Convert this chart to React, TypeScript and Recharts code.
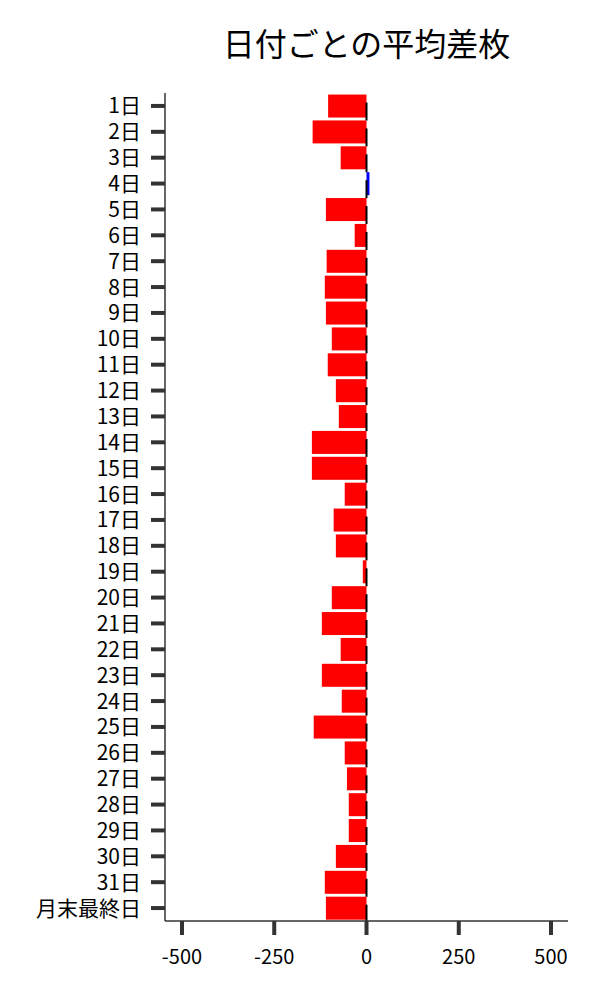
import React from 'react';
import { BarChart, Bar, XAxis, YAxis, Cell } from 'recharts';

const days: string[] = [
  '1日', '2日', '3日', '4日', '5日', '6日', '7日', '8日', '9日', '10日',
  '11日', '12日', '13日', '14日', '15日', '16日', '17日', '18日', '19日', '20日',
  '21日', '22日', '23日', '24日', '25日', '26日', '27日', '28日', '29日', '30日',
  '31日', '月末最終日',
];

const avgDiff: number[] = [
  -104, -146, -70, 8, -110, -32, -108, -113, -110, -94,
  -105, -83, -75, -148, -148, -59, -89, -83, -10, -94,
  -121, -70, -121, -67, -143, -59, -53, -48, -48, -83,
  -113, -110,
];

const xTicks: number[] = [-500, -250, 0, 250, 500];

const data = days.map((d, i) => ({ day: d, value: avgDiff[i] }));

const FONT = '"Noto Sans CJK JP", "Noto Sans", sans-serif';

const BarShape = (props: any) => {
  const { x, y, width, height, fill, value } = props;
  const left = Math.min(x, x + width);
  const w = Math.abs(width);
  const v = Array.isArray(value) ? value[1] : value;
  const zero = v < 0 ? Math.max(x, x + width) : Math.min(x, x + width);
  return (
    <g>
      <rect x={left} y={y} width={w} height={height} fill={fill} />
      <line x1={zero} x2={zero} y1={y + 8} y2={y + height + 3} stroke="#000" strokeWidth={2} />
    </g>
  );
};

export default function App() {
  return (
    <div style={{ position: 'absolute', left: 0, top: 0, width: 600, height: 1000, background: '#fff' }}>
      <div
        style={{
          position: 'absolute',
          left: 165,
          width: 403,
          top: 22,
          lineHeight: '40px',
          fontSize: 32,
          textAlign: 'center',
          fontFamily: FONT,
          color: '#000',
        }}
      >
        日付ごとの平均差枚
      </div>
      <BarChart
        width={600}
        height={1000}
        data={data}
        layout="vertical"
        margin={{ top: 93, right: 32, bottom: 0, left: 0 }}
        barCategoryGap="6%"
      >
        <XAxis
          type="number"
          domain={[-546, 546]}
          ticks={xTicks}
          allowDataOverflow
          tickSize={14}
          tickMargin={15}
          height={79}
          axisLine={{ stroke: '#333', strokeWidth: 1.5 }}
          tickLine={{ stroke: '#333', strokeWidth: 4 }}
          tick={{ fill: '#000', fontSize: 20, fontFamily: FONT }}
        />
        <YAxis
          type="category"
          dataKey="day"
          width={165}
          interval={0}
          tickSize={14}
          tickMargin={10}
          axisLine={{ stroke: '#333', strokeWidth: 1.5 }}
          tickLine={{ stroke: '#333', strokeWidth: 4 }}
          tick={{ fill: '#000', fontSize: 21, fontFamily: FONT }}
        />
        <Bar dataKey="value" isAnimationActive={false} shape={<BarShape />}>
          {data.map((d, i) => (
            <Cell key={i} fill={d.value < 0 ? '#ff0000' : '#0000ff'} />
          ))}
        </Bar>
      </BarChart>
    </div>
  );
}
